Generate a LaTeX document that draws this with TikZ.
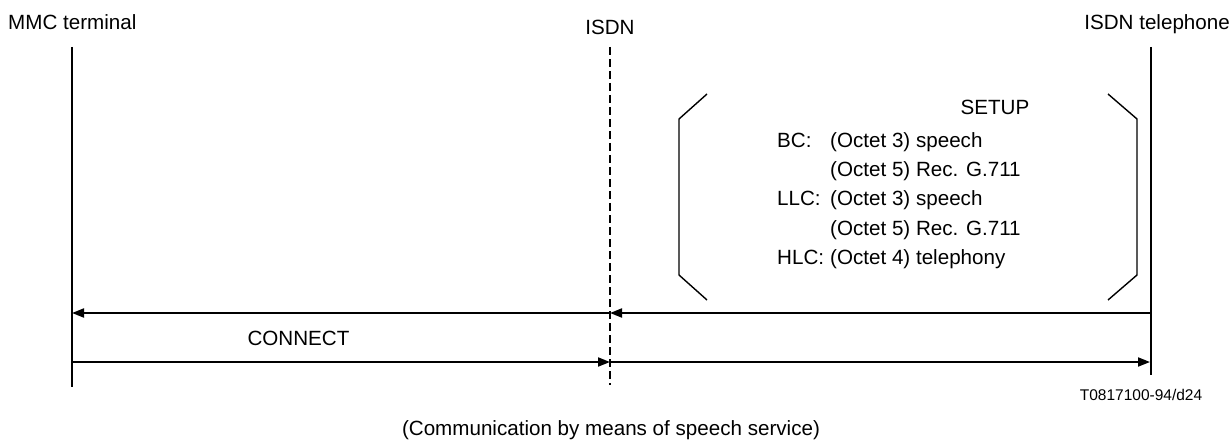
\documentclass[tikz,border=0pt]{standalone}
\usepackage{fontspec}
\setmainfont{Liberation Sans}
\usetikzlibrary{arrows.meta}
\begin{document}
\begin{tikzpicture}[x=1pt,y=-1pt,
  lbl/.style={inner sep=0pt, font=\fontsize{20.6}{24}\selectfont},
  small/.style={inner sep=0pt, font=\fontsize{15.5}{18}\selectfont},
  life/.style={line width=1.8pt},
  isdnline/.style={line width=1.8pt, dash pattern=on 8pt off 4pt},
  msg/.style={line width=1.8pt, -{Triangle[length=12pt,width=9pt]}},
  brk/.style={line width=1.4pt, line join=miter}]
\useasboundingbox (0,0) rectangle (1232,441);

% headers
\node[lbl, anchor=base west] (hA) at (8,29.5) {MMC terminal};
\node[lbl, anchor=base] (hB) at (610,34.5) {ISDN};
\node[lbl, anchor=base east] (hC) at (1230,29.5) {ISDN telephone};

% lifelines
\coordinate (Atop) at (72,47);   \coordinate (Abot) at (72,387);
\coordinate (Btop) at (610,47);  \coordinate (Bbot) at (610,385);
\coordinate (Ctop) at (1151,47); \coordinate (Cbot) at (1151,375);
\draw[life] (Atop) -- (Abot);
\draw[isdnline] (Btop) -- (Bbot);
\draw[life] (Ctop) -- (Cbot);

% message points
\coordinate (A1) at (72,313);  \coordinate (B1) at (610,313);  \coordinate (C1) at (1151,313);
\coordinate (A2) at (72,362);  \coordinate (B2) at (610,362);  \coordinate (C2) at (1150,362);
\draw[msg] (C1) -- (B1);
\draw[msg] (B1) -- (A1);
\draw[msg] (A2) -- (B2);
\draw[msg] (B2) -- (C2);
\node[lbl, anchor=base] (connect) at (298.5,345.4) {CONNECT};

% SETUP bracket
\draw[brk] (707,94) -- (679,119) -- (679,275) -- (707,300);
\draw[brk] (1108,94) -- (1137,119) -- (1137,275) -- (1108,300);
\node[lbl, anchor=base] (setup) at (995,114.4) {SETUP};
\node[lbl, anchor=base west] (bc) at (777,147.4) {BC:};
\node[lbl, anchor=base west] (bc1) at (830,147.4) {(Octet 3) speech};
\node[lbl, anchor=base west] (bc2) at (830,176.7) {(Octet 5) Rec. G.711};
\node[lbl, anchor=base west] (llc) at (777,205.9) {LLC:};
\node[lbl, anchor=base west] (llc1) at (830,205.9) {(Octet 3) speech};
\node[lbl, anchor=base west] (llc2) at (830,235.2) {(Octet 5) Rec. G.711};
\node[lbl, anchor=base west] (hlc) at (777,264.4) {HLC:};
\node[lbl, anchor=base west] (hlc1) at (830,264.4) {(Octet 4) telephony};

% footer
\node[small, anchor=base] (ref) at (1141,400.5) {T0817100-94/d24};
\node[lbl, anchor=base] (caption) at (611,435) {(Communication by means of speech service)};
\end{tikzpicture}
\end{document}
